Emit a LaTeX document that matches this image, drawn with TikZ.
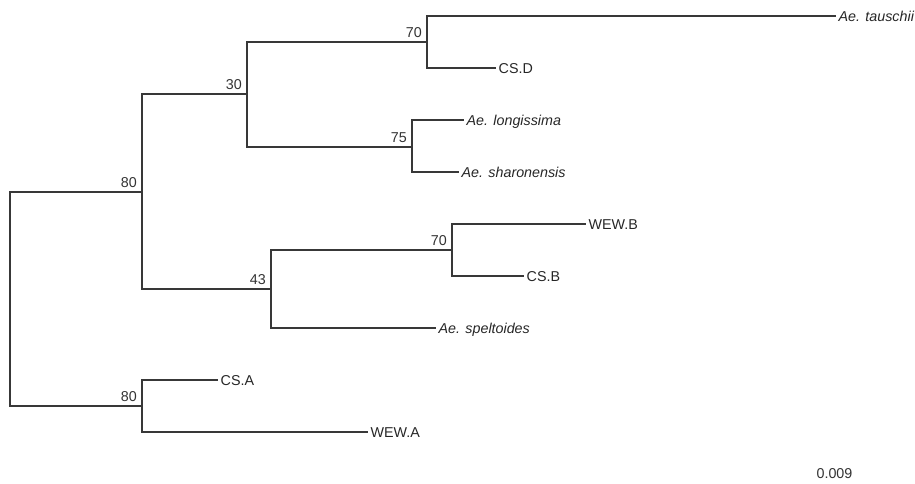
\documentclass[tikz,border=0pt]{standalone}
\usepackage{fontspec}
\setmainfont{Liberation Sans}
\usetikzlibrary{calc}
\begin{document}
\begin{tikzpicture}[x=1pt,y=-1pt,
  branch/.style={draw=black!78,line width=1.3pt,line cap=rect},
  leaf/.style={anchor=west,inner xsep=3.5pt,inner ysep=0pt,text height=10.2pt,text depth=0pt,
    font=\fontsize{14.3pt}{16pt}\selectfont,text=black!85},
  boot/.style={anchor=base east,inner sep=0pt,font=\fontsize{14.3pt}{16pt}\selectfont,text=black!80}]
\useasboundingbox (0,0) rectangle (915,483);
% internal nodes
\coordinate (r) at (10,299);
\coordinate (a80) at (142,192);
\coordinate (a30) at (247,94);
\coordinate (a70t) at (427,42);
\coordinate (a75) at (412,147);
\coordinate (a43) at (271,289);
\coordinate (a70b) at (452,250);
\coordinate (a80b) at (142,406);
% leaves
\node[leaf] (tau) at (835,16) {\itshape Ae. tauschii};
\node[leaf] (csd) at (495,68) {CS.D};
\node[leaf] (lon) at (463,120) {\itshape Ae. longissima};
\node[leaf] (sha) at (458,172) {\itshape Ae. sharonensis};
\node[leaf] (wewb) at (585,224) {WEW.B};
\node[leaf] (csb) at (523,276) {CS.B};
\node[leaf] (spe) at (435,328) {\itshape Ae. speltoides};
\node[leaf] (csa) at (217,380) {CS.A};
\node[leaf] (newa) at (367,432) {WEW.A};
% branches
\draw[branch] (r) |- (a80);
\draw[branch] (r) |- (a80b);
\draw[branch] (a80) |- (a30);
\draw[branch] (a80) |- (a43);
\draw[branch] (a30) |- (a70t);
\draw[branch] (a30) |- (a75);
\draw[branch] (a70t) |- (tau.west);
\draw[branch] (a70t) |- (csd.west);
\draw[branch] (a75) |- (lon.west);
\draw[branch] (a75) |- (sha.west);
\draw[branch] (a43) |- (a70b);
\draw[branch] (a43) |- (spe.west);
\draw[branch] (a70b) |- (wewb.west);
\draw[branch] (a70b) |- (csb.west);
\draw[branch] (a80b) |- (csa.west);
\draw[branch] (a80b) |- (newa.west);
% bootstrap values
\node[boot] (b80) at ($(a80)+(-5,-4.5)$) {80};
\node[boot] (b30) at ($(a30)+(-5,-4.5)$) {30};
\node[boot] (b70t) at ($(a70t)+(-5,-4.5)$) {70};
\node[boot] (b75) at ($(a75)+(-5,-4.5)$) {75};
\node[boot] (b43) at ($(a43)+(-5,-4.5)$) {43};
\node[boot] (b70b) at ($(a70b)+(-5,-4.5)$) {70};
\node[boot] (b80b) at ($(a80b)+(-5,-4.5)$) {80};
% scale label
\node[boot,anchor=base] (scale) at (834.5,478) {0.009};
\end{tikzpicture}
\end{document}
